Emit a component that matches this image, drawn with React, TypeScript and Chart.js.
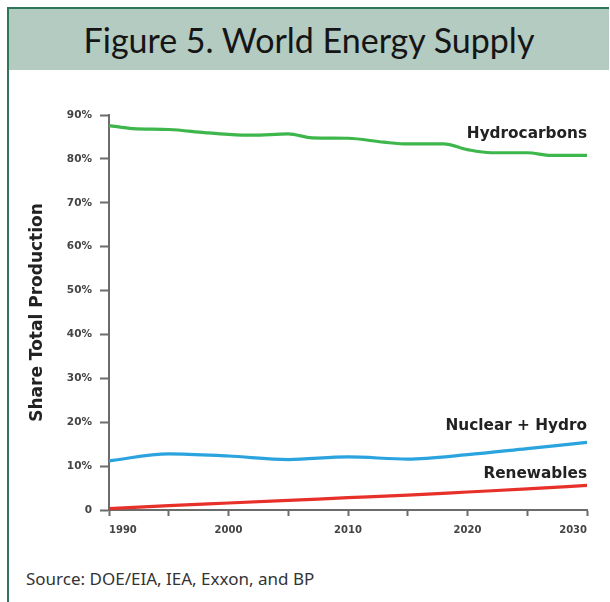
import React, { useEffect, useRef } from "react";
import { Chart, registerables } from "chart.js";

Chart.register(...registerables);

const TITLE = "Figure 5. World Energy Supply";
const SOURCE = "Source: DOE/EIA, IEA, Exxon, and BP";
const Y_TITLE = "Share Total Production";

const hydroYears = [1990, 1992, 1995, 1998, 2000, 2002, 2005, 2007, 2010, 2013, 2015, 2018, 2020, 2022, 2025, 2027, 2030];
const hydrocarbons = [87.6, 86.9, 86.7, 86.0, 85.6, 85.4, 85.7, 84.8, 84.7, 83.8, 83.4, 83.4, 82.1, 81.4, 81.4, 80.8, 80.8];

const years = [1990, 1995, 2000, 2005, 2010, 2015, 2020, 2025, 2030];
const nuclearHydro = [11.2, 12.8, 12.3, 11.5, 12.1, 11.6, 12.6, 14.0, 15.4];
const renewables = [0.3, 1.0, 1.6, 2.2, 2.8, 3.4, 4.1, 4.8, 5.6];

const seriesNames = ["Hydrocarbons", "Nuclear + Hydro", "Renewables"];
const labelAnchors = [85.6, 19.1, 8.1];

const GREEN = "#3db64b";
const BLUE = "#2aa3de";
const RED = "#e8302a";
const AXIS = "#6b6b6b";

function pts(xs: number[], ys: number[]) {
  return xs.map((x, i) => ({ x, y: ys[i] }));
}

const labelPlugin = {
  id: "seriesLabels",
  afterDatasetsDraw(chart: any) {
    const { ctx, chartArea, scales } = chart;
    ctx.save();
    ctx.font = "bold 15.3px 'DejaVu Sans'";
    ctx.fillStyle = "#222";
    ctx.textAlign = "right";
    ctx.textBaseline = "middle";
    seriesNames.forEach((n, i) => {
      ctx.fillText(n, chartArea.right, scales.y.getPixelForValue(labelAnchors[i]));
    });
    ctx.restore();
  },
};

export default function App() {
  const ref = useRef<HTMLCanvasElement>(null);
  useEffect(() => {
    if (!ref.current) return;
    const chart = new Chart(ref.current, {
      type: "line",
      data: {
        datasets: [
          { label: seriesNames[0], data: pts(hydroYears, hydrocarbons), borderColor: GREEN },
          { label: seriesNames[1], data: pts(years, nuclearHydro), borderColor: BLUE },
          { label: seriesNames[2], data: pts(years, renewables), borderColor: RED },
        ].map((d) => ({ ...d, borderWidth: 3.2, pointRadius: 0, tension: 0.3, cubicInterpolationMode: "monotone" as const, fill: false })),
      },
      options: {
        animation: false,
        responsive: false,
        devicePixelRatio: 1,
        layout: { padding: { left: 20, right: 23, top: 35, bottom: 0 } },
        plugins: { legend: { display: false }, tooltip: { enabled: false } },
        scales: {
          x: {
            type: "linear",
            min: 1990,
            max: 2030,
            afterFit: (s: any) => { s.height = 40; },
            border: { display: true, color: AXIS, width: 2 },
            grid: { display: true, drawOnChartArea: false, drawTicks: true, tickLength: 6, tickColor: AXIS, tickWidth: 2 },
            ticks: {
              stepSize: 5,
              autoSkip: false,
              maxRotation: 0,
              align: "inner",
              padding: 8,
              color: "#444",
              font: { family: "'DejaVu Sans'", weight: "bold", size: 10 },
              callback: (v: any) => (Number(v) % 10 === 0 ? String(v) : ""),
            },
          },
          y: {
            min: 0,
            max: 90,
            afterFit: (s: any) => { s.width = 89; },
            border: { display: true, color: AXIS, width: 2 },
            grid: { display: true, drawOnChartArea: false, drawTicks: true, tickLength: 9, tickColor: AXIS, tickWidth: 2 },
            ticks: {
              stepSize: 10,
              padding: 8,
              color: "#444",
              font: { family: "'DejaVu Sans'", weight: "bold", size: 10.5 },
              callback: (v: any) => (Number(v) === 0 ? "0" : v + "%"),
            },
            title: {
              display: true,
              text: Y_TITLE,
              color: "#222",
              padding: { top: 7, bottom: 0 },
              font: { family: "'DejaVu Sans'", weight: "bold", size: 17 },
            },
          },
        },
      },
      plugins: [labelPlugin],
    });
    return () => chart.destroy();
  }, []);

  return (
    <div style={{ position: "absolute", left: 0, top: 0, width: 610, height: 602, background: "#fff", overflow: "hidden" }}>
      <div style={{ position: "absolute", left: 7, top: 7, width: 2, height: 595, background: "#2e7658" }} />
      <div style={{ position: "absolute", left: 7, top: 7, width: 602, height: 2, background: "#2e7658" }} />
      <div
        style={{
          position: "absolute", left: 9, top: 9, width: 600, height: 61, background: "#b3cbc1",
          display: "flex", alignItems: "center", justifyContent: "center",
          fontFamily: "Lato, sans-serif", fontSize: 34, color: "#151515",
        }}
      >
        {TITLE}
      </div>
      <canvas ref={ref} width={610} height={470} style={{ position: "absolute", left: 0, top: 80, width: 610, height: 470 }} />
      <div style={{ position: "absolute", left: 26, top: 567, fontFamily: "'Noto Sans', sans-serif", fontSize: 17, color: "#333", whiteSpace: "nowrap" }}>
        {SOURCE}
      </div>
    </div>
  );
}
